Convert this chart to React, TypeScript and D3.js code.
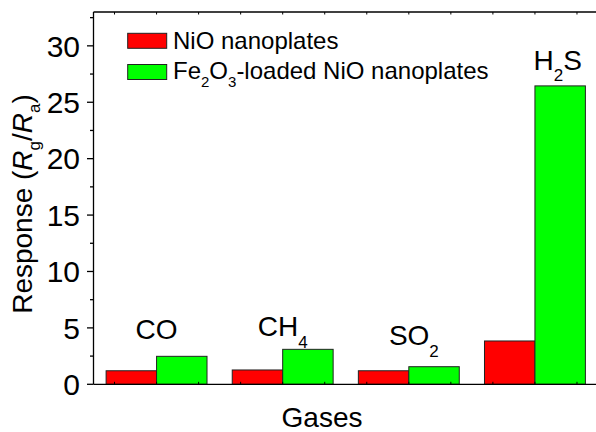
import React from "react";
import * as d3 from "d3";

const categories = ["CO", "CH4", "SO2", "H2S"];
const seriesNames = ["NiO nanoplates", "Fe2O3-loaded NiO nanoplates"];
const nioValues = [1.2, 1.27, 1.2, 3.84];
const fe2o3Values = [2.48, 3.1, 1.56, 26.45];
const yTicks = [0, 5, 10, 15, 20, 25, 30];
const yMinorTicks = [2.5, 7.5, 12.5, 17.5, 22.5, 27.5, 32.5];
// annotation labels: main text, subscript, y (data units), x offset (fraction of band step)
const annotMain = ["CO", "CH", "SO", "H"];
const annotSub = ["", "4", "2", "2"];
const annotTail = ["", "", "", "S"];
const annotY = [4.0, 4.28, 3.48, 27.9];
const annotDx = [0, 0, 0.04, 0.18];

const W = 596;
const H = 432;
const left = 93.5;
const right = 598;
const top = 12;
const bottom = 384.3;
const FONT = "'Liberation Sans', Arial, sans-serif";
const colors = ["#ff0000", "#00ff00"];

export default function App() {
  const x = d3.scaleBand<string>().domain(categories).range([left, right]).padding(0);
  const step = x.step();
  const bw = step * 0.4;
  const xs = d3.scaleBand<number>().domain([0, 1]).range([-bw, bw]).padding(0);
  const y = d3.scaleLinear().domain([0, 33]).range([bottom, top]);
  const series = [nioValues, fe2o3Values];

  const xTickPos: number[] = [];
  categories.forEach((c) => {
    const cx = (x(c) as number) + step / 2;
    [-1, 0, 1].forEach((k) => xTickPos.push(cx + (k * step) / 3));
  });

  return (
    <svg width={W} height={H} style={{ position: "absolute", left: 0, top: 0, background: "#fff" }} fontFamily={FONT}>
      <rect x={0} y={0} width={W} height={H} fill="#fff" />
      {/* bars */}
      {categories.map((c, i) => {
        const cx = (x(c) as number) + step / 2;
        return series.map((s, j) => (
          <rect
            key={c + j}
            x={cx + (xs(j) as number)}
            y={y(s[i])}
            width={xs.bandwidth()}
            height={y(0) - y(s[i])}
            fill={colors[j]}
            stroke="#222"
            strokeWidth={1}
          />
        ));
      })}
      {/* axes frame */}
      <line x1={left} x2={left} y1={top} y2={bottom} stroke="#000" strokeWidth={1.3} />
      <line x1={left} x2={W} y1={bottom} y2={bottom} stroke="#000" strokeWidth={1.3} />
      <line x1={left} x2={W} y1={top} y2={top} stroke="#000" strokeWidth={1.3} />
      {xTickPos.map((p, i) => (
        <g key={"xt" + i}>
          <line x1={p} x2={p} y1={bottom} y2={bottom - 2.5} stroke="#000" strokeWidth={1} />
          <line x1={p} x2={p} y1={top} y2={top + 2.5} stroke="#000" strokeWidth={1} />
        </g>
      ))}
      {yTicks.map((t) => (
        <g key={"yt" + t}>
          <line x1={left - 6.5} x2={left} y1={y(t)} y2={y(t)} stroke="#000" strokeWidth={1.3} />
          <text x={80} y={y(t)} dy="0.36em" textAnchor="end" fontSize={30} fill="#000">
            {t}
          </text>
        </g>
      ))}
      {yMinorTicks.map((t) => (
        <line key={"ym" + t} x1={left - 3.5} x2={left} y1={y(t)} y2={y(t)} stroke="#000" strokeWidth={1.3} />
      ))}
      {/* annotations */}
      {categories.map((c, i) => {
        const cx = (x(c) as number) + step / 2 + annotDx[i] * step;
        return (
          <text key={"an" + c} x={cx} y={y(annotY[i])} textAnchor="middle" fontSize={28} fill="#000">
            {annotMain[i]}
            {annotSub[i] && (
              <tspan fontSize={17} dy={11.5}>
                {annotSub[i]}
              </tspan>
            )}
            {annotTail[i] && <tspan dy={-11.5}>{annotTail[i]}</tspan>}
          </text>
        );
      })}
      {/* legend */}
      <rect x={127.7} y={33.3} width={39} height={15} fill={colors[0]} stroke="#222" strokeWidth={1} />
      <rect x={127.7} y={64.5} width={39} height={15} fill={colors[1]} stroke="#222" strokeWidth={1} />
      <text x={173} y={48.5} fontSize={24} fill="#000">{seriesNames[0]}</text>
      <text x={173} y={79} fontSize={24} fill="#000">
        Fe<tspan fontSize={15} dy={8}>2</tspan>
        <tspan dy={-8}>O</tspan>
        <tspan fontSize={15} dy={8}>3</tspan>
        <tspan dy={-8}>-loaded NiO nanoplates</tspan>
      </text>
      {/* axis titles */}
      <text x={322} y={427} textAnchor="middle" fontSize={28} fill="#000">Gases</text>
      <text transform="translate(32,204) rotate(-90)" textAnchor="middle" fontSize={28} fill="#000">
        Response (<tspan fontStyle="italic">R</tspan>
        <tspan fontSize={17} dy={8}>g</tspan>
        <tspan dy={-8}>/</tspan>
        <tspan fontStyle="italic">R</tspan>
        <tspan fontSize={17} dy={8}>a</tspan>
        <tspan dy={-8}>)</tspan>
      </text>
    </svg>
  );
}
